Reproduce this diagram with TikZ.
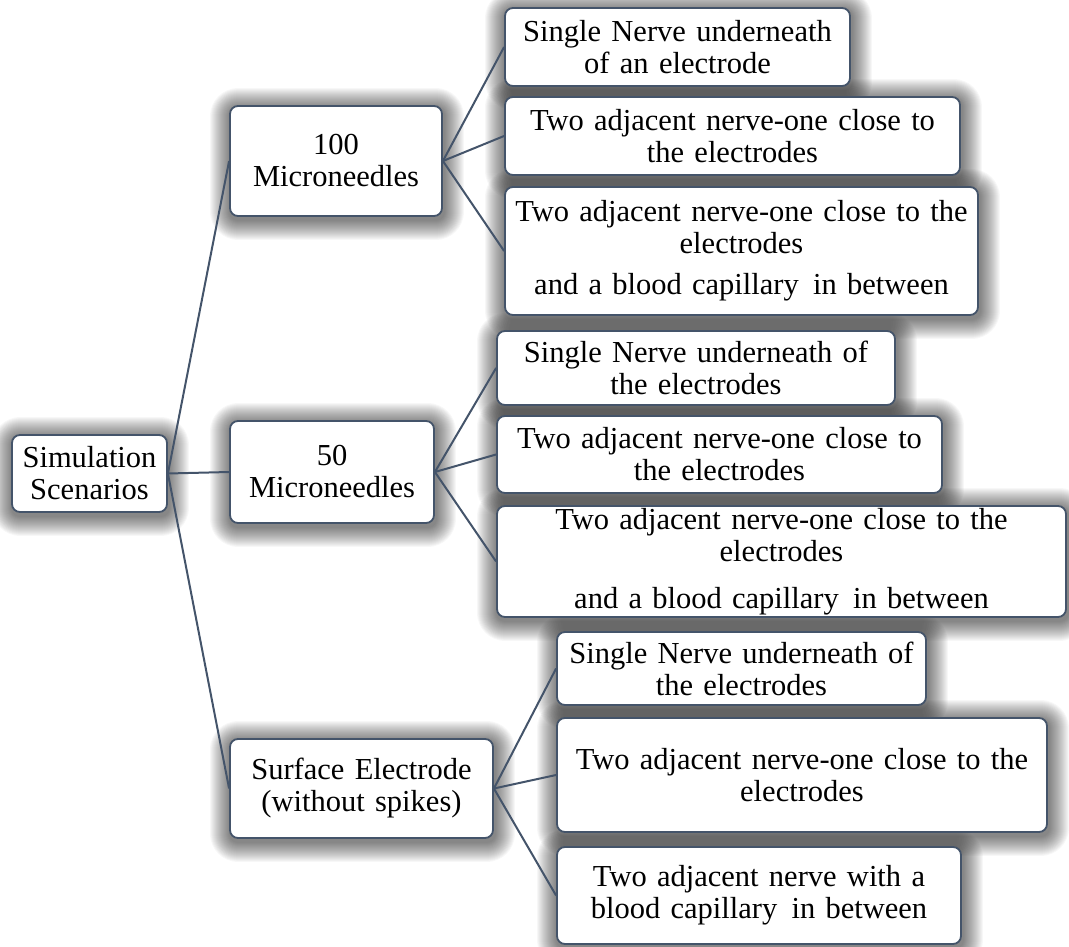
\documentclass[tikz,border=0pt]{standalone}
\usepackage{fontspec}
\setmainfont{Liberation Serif}[WordSpace=1.35]
\definecolor{edgecol}{HTML}{44546A}
\pgfdeclarelayer{background}
\pgfsetlayers{background,main}
\tikzset{
  box/.style={draw=edgecol, line width=1.8pt, fill=white, rounded corners=8pt,
    align=center, inner sep=0pt, text=black,
    font=\fontsize{30.5}{32}\selectfont},
  link/.style={draw=edgecol, line width=2pt},
  shadowring/.style={fill=black, fill opacity=0.033}
}
\begin{document}
\begin{tikzpicture}[x=1pt,y=-1pt]
\useasboundingbox (0,0) rectangle (1069,947);
% level 0
\node[box, minimum width=155pt, minimum height=77pt] (root) at (89.5,473.5) {Simulation\\Scenarios};
% level 1
\node[box, minimum width=212pt, minimum height=110pt] (a) at (336,161) {100\\Microneedles};
\node[box, minimum width=204pt, minimum height=102pt] (b) at (332,472) {50\\Microneedles};
\node[box, minimum width=263pt, minimum height=99pt] (c) at (361.5,788.5) {Surface Electrode\\(without spikes)};
% leaves of a
\node[box, minimum width=345pt, minimum height=78pt] (l1) at (677.5,47) {Single Nerve underneath\\of an electrode};
\node[box, minimum width=455pt, minimum height=78pt] (l2) at (732.5,136) {Two adjacent nerve-one close to\\the electrodes};
\node[box, minimum width=473pt, minimum height=128pt] (l3) at (741.5,251) {Two adjacent nerve-one close to the\\electrodes\\[9pt]and a blood capillary\hspace{4pt} in between};
% leaves of b
\node[box, minimum width=398pt, minimum height=74pt] (l4) at (696,368) {Single Nerve underneath of\\the electrodes};
\node[box, minimum width=445pt, minimum height=77pt] (l5) at (719.5,454.5) {Two adjacent nerve-one close to\\the electrodes};
\node[box, minimum width=569pt, minimum height=111pt] (l6) at (781.5,561.5) {Two adjacent nerve-one close to the\\electrodes\\[15pt]and a blood capillary\hspace{4pt} in between};
% leaves of c
\node[box, minimum width=369pt, minimum height=73pt] (l7) at (741.5,668.5) {Single Nerve underneath of\\the electrodes};
\node[box, minimum width=490pt, minimum height=114pt] (l8) at (802,775) {Two adjacent nerve-one close to the\\electrodes};
\node[box, minimum width=404pt, minimum height=97pt] (l9) at (759,895.5) {Two adjacent nerve with a\\blood capillary\hspace{4pt} in between};
% soft shadows
\begin{pgfonlayer}{background}
\foreach \n in {root,a,b,c,l1,l2,l3,l4,l5,l6,l7,l8,l9}{
  \foreach \k in {1,...,20}{
    \fill[shadowring, rounded corners={8pt+\k pt}]
      ([shift={(-\k+1,-\k+3)}]\n.north west) rectangle ([shift={(\k+1,\k+3)}]\n.south east);
  }
}
\end{pgfonlayer}
% connectors
\draw[link] (root.east) -- (a.west);
\draw[link] (root.east) -- (b.west);
\draw[link] (root.east) -- (c.west);
\draw[link] (a.east) -- (l1.west);
\draw[link] (a.east) -- (l2.west);
\draw[link] (a.east) -- (l3.west);
\draw[link] (b.east) -- (l4.west);
\draw[link] (b.east) -- (l5.west);
\draw[link] (b.east) -- (l6.west);
\draw[link] (c.east) -- (l7.west);
\draw[link] (c.east) -- (l8.west);
\draw[link] (c.east) -- (l9.west);
\end{tikzpicture}
\end{document}
